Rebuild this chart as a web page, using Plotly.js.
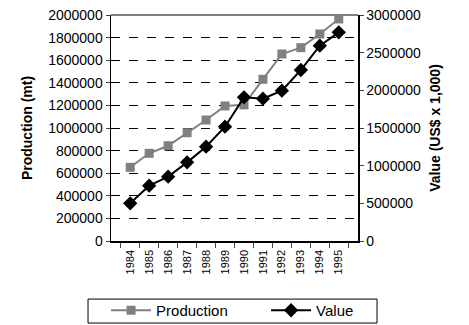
<!DOCTYPE html>
<html>
<head>
<script src="https://cdn.plot.ly/plotly-3.0.1.min.js"></script>
<style>body{margin:0;background:#fff}</style>
</head>
<body>
<div id="chart" style="width:469px;height:325px"></div>
<script>
// years on the category axis
var years = ["1984","1985","1986","1987","1988","1989","1990","1991","1992","1993","1994","1995"];
// production in metric tonnes (left axis)
var production = [652000, 776000, 843000, 958000, 1071000, 1195000, 1205000, 1431000, 1655000, 1711000, 1832000, 1965000];
// value in US$ x 1,000 (right axis)
var value = [500000, 734000, 854000, 1044000, 1252000, 1517000, 1907000, 1889000, 1995000, 2270000, 2593000, 2770000];

var font = "Liberation Sans, Arial, sans-serif";

var tracePro = {
  x: years, y: production, name: "Production",
  type: "scatter", mode: "lines+markers",
  line: {color: "#808080", width: 2},
  marker: {symbol: "square", size: 9, color: "#808080"}
};
var traceVal = {
  x: years, y: value, name: "Value", yaxis: "y2",
  type: "scatter", mode: "lines+markers",
  line: {color: "#000000", width: 2},
  marker: {symbol: "diamond", size: 11, color: "#000000"}
};

var layout = {
  width: 469, height: 325,
  margin: {l: 111, r: 111, t: 15, b: 84, autoexpand: false},
  paper_bgcolor: "#fff", plot_bgcolor: "#fff",
  font: {family: font, size: 14, color: "#000"},
  showlegend: true,
  // legend has no border of its own; the box is a shape below
  legend: {
    orientation: "h", x: -0.02, xanchor: "left",
    y: -0.2345, yanchor: "top",
    bgcolor: "rgba(0,0,0,0)", borderwidth: 0, font: {size: 15},
    itemwidth: 40, entrywidth: 105, entrywidthmode: "pixels", traceorder: "normal"
  },
  xaxis: {
    type: "category", tickangle: -90, tickfont: {size: 11},
    showline: true, linecolor: "#000", linewidth: 1.5,
    ticks: "outside", ticklen: 5, tickson: "boundaries", ticklabelstandoff: 3,
    showgrid: false, zeroline: false, fixedrange: true
  },
  yaxis: {
    range: [0, 2000000], dtick: 200000, tickformat: "d",
    showline: true, linecolor: "#000", linewidth: 1.5,
    ticks: "outside", ticklen: 4,
    showgrid: true, gridcolor: "#000", gridwidth: 1, griddash: "dash",
    zeroline: false, tickfont: {size: 14},
    title: {text: "<b>Production (mt)</b>", font: {size: 14}, standoff: 12}
  },
  yaxis2: {
    overlaying: "y", side: "right",
    range: [0, 3000000], dtick: 500000, tickformat: "d",
    showline: true, linecolor: "#000", linewidth: 1.5,
    ticks: "outside", ticklen: 4, showgrid: false, zeroline: false,
    tickfont: {size: 14},
    title: {text: "<b>Value (US$ x 1,000)</b>", font: {size: 14}, standoff: 10}
  },
  shapes: [
    {type: "line", xref: "paper", yref: "paper", x0: 0, x1: 1, y0: 1, y1: 1,
     line: {color: "#808080", width: 2}},
    {type: "rect", xref: "paper", yref: "paper", x0: -0.093, x1: 1.077, y0: -0.363, y1: -0.257,
     line: {color: "#000", width: 1}, fillcolor: "rgba(0,0,0,0)"}
  ]
};

Plotly.newPlot("chart", [tracePro, traceVal], layout, {displayModeBar: false, staticPlot: true});
</script>
</body>
</html>
